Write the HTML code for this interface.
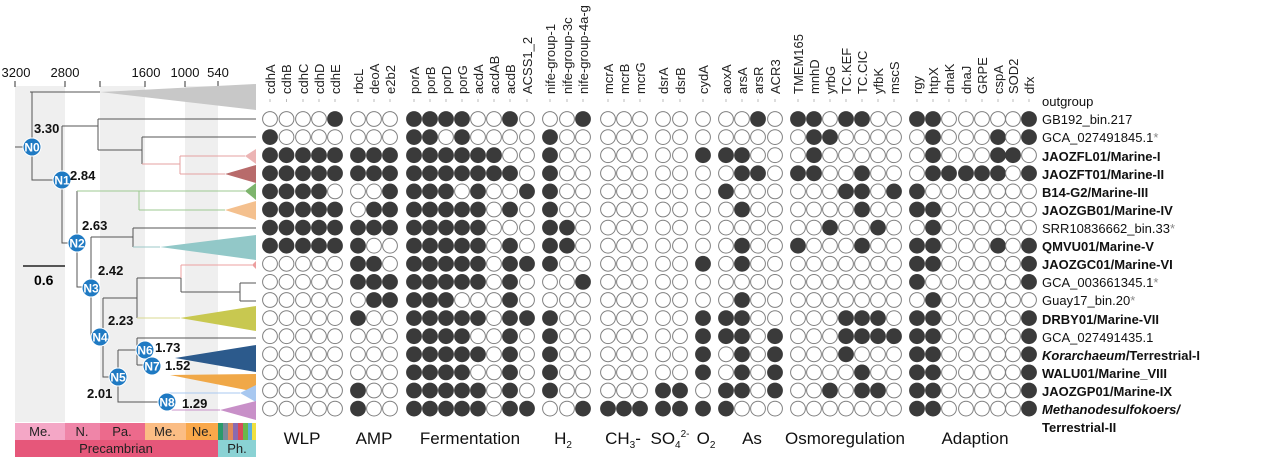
<!DOCTYPE html>
<html><head><meta charset="utf-8"><style>
body{margin:0;background:#fff;width:1269px;height:466px;overflow:hidden}
svg{font-family:"Liberation Sans",Arial,sans-serif}
.hl{font-size:13px;fill:#222}
.rl{font-size:13px;fill:#111}
.b{font-weight:bold}
.g{font-size:17px;fill:#111}
.nd{fill:#1f7ac3;stroke:#fff;stroke-width:1}
.nt{fill:#fff;font-size:12px;font-weight:bold}
.nv{font-size:13px;font-weight:bold;fill:#111}
.tr{stroke:#555;fill:none;stroke-width:1}
</style></head><body>
<svg id="s" width="1269" height="466" viewBox="0 0 1269 466">
<rect x="15" y="86" width="50" height="336" fill="#efefef"/>
<rect x="100" y="86" width="45" height="336" fill="#efefef"/>
<rect x="185" y="86" width="33" height="336" fill="#efefef"/>
<g font-size="13" fill="#111" text-anchor="middle">
<text x="16" y="77">3200</text><text x="65" y="77">2800</text><text x="146" y="77">1600</text><text x="185" y="77">1000</text><text x="218" y="77">540</text>
</g>
<g stroke="#333"><line x1="15" y1="81" x2="15" y2="87"/><line x1="65" y1="81" x2="65" y2="87"/><line x1="100" y1="81" x2="100" y2="87"/><line x1="145" y1="81" x2="145" y2="87"/><line x1="185" y1="81" x2="185" y2="87"/><line x1="218" y1="81" x2="218" y2="87"/></g>
<polygon points="100,92 256,84 256,110" fill="#c8c8c8"/>
<polygon points="245,156 256,149 256,164" fill="#ecb4b4"/>
<polygon points="225,174 256,165 256,183" fill="#b86b6b"/>
<polygon points="245,191 256,183 256,200" fill="#7db46c"/>
<polygon points="225,210 256,201 256,220" fill="#f4c08e"/>
<polygon points="160,247 256,235 256,260" fill="#92c8c8"/>
<polygon points="252,265 256,261 256,269" fill="#ec9e9e"/>
<polygon points="180,318 256,306 256,331" fill="#c8c850"/>
<polygon points="175,358 256,345 256,372" fill="#2c5a8c"/>
<polygon points="170,375 256,374 256,392" fill="#f0a848"/>
<polygon points="240,393 256,385 256,402" fill="#a8c8f0"/>
<polygon points="220,410 256,401 256,420" fill="#c890c8"/>
<path class="tr" d="M30,92H100 M32,92V180H62 M15,147H32 M62,126V243H77 M62,126H98 M98,119V150 M98,119H256 M98,150H142 M142,137V164 M142,137H256"/>
<path d="M142,164H180 M180,156V174 M180,156H245 M180,174H225" stroke="#e4a0a0" fill="none"/>
<path class="tr" d="M77,191V287H91 M91,237V337"/>
<path d="M77,191H139 M139,191V210 M139,191H245 M139,210H225" stroke="#9cc890" fill="none"/>
<path class="tr" d="M91,237H133 M133,228V247 M133,228H256"/>
<path d="M133,247H160" stroke="#9cc8c8" fill="none"/>
<path class="tr" d="M103,298V337 M103,298H137 M137,278V318 M137,278H181 M181,278V292 M181,292H240 M240,283V301 M240,283H256 M240,301H256 M103,337V377H118 M118,350V402H167 M118,350H145 M137,338V365 M137,338H256 M137,365H152"/>
<path d="M181,265V278 M181,265H252" stroke="#eca0a0" fill="none"/>
<path d="M137,318H180" stroke="#d8d890" fill="none"/>
<path d="M167,393H240" stroke="#a8c8f0" fill="none"/>
<path d="M167,410H220" stroke="#c890c8" fill="none"/>
<line x1="23" y1="266" x2="65" y2="266" stroke="#222" stroke-width="1.5"/>
<text x="34" y="285" font-size="14" font-weight="bold">0.6</text>
<g>
<circle class="nd" cx="32" cy="147" r="9"/><text class="nt" x="32" y="151.5" text-anchor="middle">N0</text>
<circle class="nd" cx="62" cy="180" r="9"/><text class="nt" x="62" y="184.5" text-anchor="middle">N1</text>
<circle class="nd" cx="77" cy="243" r="9"/><text class="nt" x="77" y="247.5" text-anchor="middle">N2</text>
<circle class="nd" cx="91" cy="288" r="9"/><text class="nt" x="91" y="292.5" text-anchor="middle">N3</text>
<circle class="nd" cx="100" cy="337" r="9"/><text class="nt" x="100" y="341.5" text-anchor="middle">N4</text>
<circle class="nd" cx="118" cy="377" r="9"/><text class="nt" x="118" y="381.5" text-anchor="middle">N5</text>
<circle class="nd" cx="145" cy="350" r="9"/><text class="nt" x="145" y="354.5" text-anchor="middle">N6</text>
<circle class="nd" cx="152" cy="366" r="9"/><text class="nt" x="152" y="370.5" text-anchor="middle">N7</text>
<circle class="nd" cx="167" cy="402" r="9"/><text class="nt" x="167" y="406.5" text-anchor="middle">N8</text>
</g>
<text class="nv" x="34" y="133">3.30</text>
<text class="nv" x="70" y="180">2.84</text>
<text class="nv" x="82" y="230">2.63</text>
<text class="nv" x="98" y="275">2.42</text>
<text class="nv" x="108" y="325">2.23</text>
<text class="nv" x="155" y="352">1.73</text>
<text class="nv" x="165" y="370">1.52</text>
<text class="nv" x="87" y="398">2.01</text>
<text class="nv" x="182" y="408">1.29</text>
<rect x="15" y="423" width="50" height="17" fill="#f4a7c6"/>
<rect x="65" y="423" width="35" height="17" fill="#ef85a8"/>
<rect x="100" y="423" width="45" height="17" fill="#ec6a8c"/>
<rect x="145" y="423" width="41" height="17" fill="#fbbd84"/>
<rect x="186" y="423" width="32" height="17" fill="#f9a84a"/>
<rect x="218" y="423" width="5" height="17" fill="#2a9a6a"/>
<rect x="223" y="423" width="5" height="17" fill="#7a8a9a"/>
<rect x="228" y="423" width="5" height="17" fill="#e08a5a"/>
<rect x="233" y="423" width="5" height="17" fill="#8a6ab0"/>
<rect x="238" y="423" width="5" height="17" fill="#d84a5a"/>
<rect x="243" y="423" width="5" height="17" fill="#6ab84a"/>
<rect x="248" y="423" width="4" height="17" fill="#5ab0e0"/>
<rect x="252" y="423" width="4" height="17" fill="#f0e040"/>
<rect x="15" y="440" width="203" height="17" fill="#e6577a"/>
<rect x="218" y="440" width="38" height="17" fill="#8ad2d4"/>
<g font-size="13" fill="#222" text-anchor="middle">
<text x="40" y="436">Me.</text><text x="82" y="436">N.</text><text x="122" y="436">Pa.</text><text x="165" y="436">Me.</text><text x="202" y="436">Ne.</text>
<text x="116" y="453">Precambrian</text><text x="237" y="453">Ph.</text>
</g>
<g class="hl" text-anchor="start">
<text transform="translate(275,94) rotate(-90)">cdhA</text>
<text transform="translate(291,94) rotate(-90)">cdhB</text>
<text transform="translate(308,94) rotate(-90)">cdhC</text>
<text transform="translate(324,94) rotate(-90)">cdhD</text>
<text transform="translate(340,94) rotate(-90)">cdhE</text>
<text transform="translate(363,94) rotate(-90)">rbcL</text>
<text transform="translate(379,94) rotate(-90)">deoA</text>
<text transform="translate(395,94) rotate(-90)">e2b2</text>
<text transform="translate(419,94) rotate(-90)">porA</text>
<text transform="translate(435,94) rotate(-90)">porB</text>
<text transform="translate(451,94) rotate(-90)">porD</text>
<text transform="translate(467,94) rotate(-90)">porG</text>
<text transform="translate(483,94) rotate(-90)">acdA</text>
<text transform="translate(499,94) rotate(-90)">acdAB</text>
<text transform="translate(515,94) rotate(-90)">acdB</text>
<text transform="translate(532,94) rotate(-90)">ACSS1_2</text>
<text transform="translate(555,94) rotate(-90)">nife-group-1</text>
<text transform="translate(572,94) rotate(-90)">nife-group-3c</text>
<text transform="translate(588,94) rotate(-90)">nife-group-4a-g</text>
<text transform="translate(613,94) rotate(-90)">mcrA</text>
<text transform="translate(629,94) rotate(-90)">mcrB</text>
<text transform="translate(645,94) rotate(-90)">mcrG</text>
<text transform="translate(668,94) rotate(-90)">dsrA</text>
<text transform="translate(685,94) rotate(-90)">dsrB</text>
<text transform="translate(708,94) rotate(-90)">cydA</text>
<text transform="translate(731,94) rotate(-90)">aoxA</text>
<text transform="translate(747,94) rotate(-90)">arsA</text>
<text transform="translate(763,94) rotate(-90)">arsR</text>
<text transform="translate(780,94) rotate(-90)">ACR3</text>
<text transform="translate(803,94) rotate(-90)">TMEM165</text>
<text transform="translate(819,94) rotate(-90)">mnhD</text>
<text transform="translate(835,94) rotate(-90)">yrbG</text>
<text transform="translate(851,94) rotate(-90)">TC.KEF</text>
<text transform="translate(867,94) rotate(-90)">TC.CIC</text>
<text transform="translate(883,94) rotate(-90)">yfbK</text>
<text transform="translate(899,94) rotate(-90)">mscS</text>
<text transform="translate(922,94) rotate(-90)">rgy</text>
<text transform="translate(938,94) rotate(-90)">htpX</text>
<text transform="translate(954,94) rotate(-90)">dnaK</text>
<text transform="translate(971,94) rotate(-90)">dnaJ</text>
<text transform="translate(987,94) rotate(-90)">GRPE</text>
<text transform="translate(1003,94) rotate(-90)">cspA</text>
<text transform="translate(1018,94) rotate(-90)">SOD2</text>
<text transform="translate(1034,94) rotate(-90)">dfx</text>
</g>
<g id="dots"></g>
<g class="rl">
<text x="1042" y="106">outgroup</text>
<text x="1042" y="124">GB192_bin.217</text>
<text x="1042" y="142">GCA_027491845.1<tspan fill="#888">*</tspan></text>
<text x="1042" y="161" class="b">JAOZFL01/Marine-I</text>
<text x="1042" y="179" class="b">JAOZFT01/Marine-II</text>
<text x="1042" y="197" class="b">B14-G2/Marine-III</text>
<text x="1042" y="215" class="b">JAOZGB01/Marine-IV</text>
<text x="1042" y="233">SRR10836662_bin.33<tspan fill="#888">*</tspan></text>
<text x="1042" y="251" class="b">QMVU01/Marine-V</text>
<text x="1042" y="269" class="b">JAOZGC01/Marine-VI</text>
<text x="1042" y="287">GCA_003661345.1<tspan fill="#888">*</tspan></text>
<text x="1042" y="305">Guay17_bin.20<tspan fill="#888">*</tspan></text>
<text x="1042" y="324" class="b">DRBY01/Marine-VII</text>
<text x="1042" y="342">GCA_027491435.1</text>
<text x="1042" y="360" class="b"><tspan font-style="italic">Korarchaeum</tspan>/Terrestrial-I</text>
<text x="1042" y="378" class="b">WALU01/Marine_VIII</text>
<text x="1042" y="396" class="b">JAOZGP01/Marine-IX</text>
<text x="1042" y="414" class="b" font-style="italic">Methanodesulfokoers/</text>
<text x="1042" y="432" class="b">Terrestrial-II</text>
</g>
<g class="g" text-anchor="middle">
<text x="302" y="444">WLP</text>
<text x="374" y="444">AMP</text>
<text x="470" y="444">Fermentation</text>
<text x="563" y="444">H<tspan font-size="10" dy="4">2</tspan></text>
<text x="623" y="444">CH<tspan font-size="10" dy="4">3</tspan><tspan dy="-4">-</tspan></text>
<text x="670" y="444">SO<tspan font-size="10" dy="4">4</tspan><tspan font-size="10" dy="-11">2-</tspan></text>
<text x="706" y="444">O<tspan font-size="10" dy="4">2</tspan></text>
<text x="752" y="444">As</text>
<text x="845" y="444">Osmoregulation</text>
<text x="975" y="444">Adaption</text>
</g>
</svg>
<script>
var xs=[270,286.5,303,319,335,358,374,390,414,430,446,462,478,494,510,527,550,567,583,608,624,640,663,680,703,726,742,758,775,798,814,830,846,862,878,894,917,933,949,966,982,998,1013,1029];
var rows=[
"00001 000 11110010 001 000 00 0 0010 1101100 11000001",
"10000 000 11010000 100 000 00 0 0000 0110000 01000101",
"11111 111 11111100 100 000 00 1 1100 0100000 01000110",
"11111 111 11111110 100 000 00 0 0110 1100100 01111101",
"11110 001 11101001 100 000 00 0 1000 0001101 10000000",
"11111 011 11111010 100 000 00 0 0100 0000100 11000000",
"11111 111 11111000 110 000 00 0 0000 0010010 01000000",
"11111 100 11111010 110 000 00 0 0100 1000100 11000101",
"00000 110 11111011 100 000 00 1 0100 0000000 11000001",
"00000 111 11111010 001 000 00 0 0000 0000000 10000001",
"00000 011 11100010 000 000 00 0 0100 0000000 01000000",
"00000 100 11111011 100 000 00 1 1100 0001110 11000001",
"00000 000 11110010 100 000 00 1 1101 0001111 11000001",
"00000 000 11111010 100 000 00 1 0101 0001000 11000001",
"00000 000 11110010 100 000 00 1 0101 0000100 11000001",
"00000 100 11111010 100 000 11 0 1101 0010110 11000001",
"00000 100 11111011 001 111 11 1 1000 0000000 11000001"];
var s="";
for(var i=0;i<44;i++){s+='<line x1="'+xs[i]+'" y1="99" x2="'+xs[i]+'" y2="102" stroke="#bbb"/>';}
for(var r=0;r<rows.length;r++){var row=rows[r].replace(/ /g,"");var y=119+r*18.1;for(var c=0;c<44;c++){var f=row[c]=="1";
s+='<circle cx="'+xs[c]+'" cy="'+y.toFixed(1)+'" r="7.4" fill="'+(f?"#3a3a3a":"#fff")+'" stroke="'+(f?"#3a3a3a":"#808080")+'" stroke-width="1"/>';}}
document.getElementById("dots").innerHTML=s;
</script>
</body></html>
